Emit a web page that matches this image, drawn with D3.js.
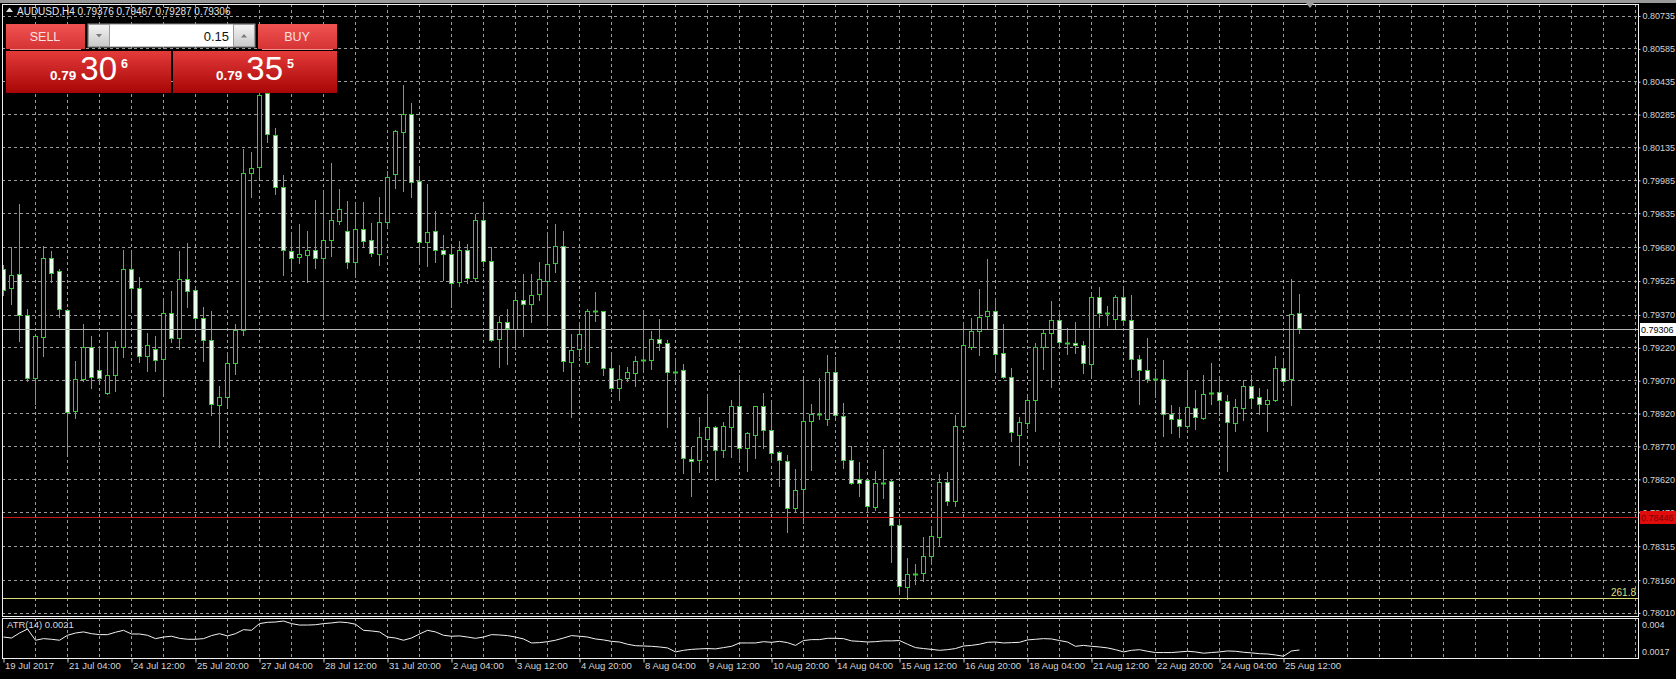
<!DOCTYPE html>
<html>
<head>
<meta charset="utf-8">
<script src="https://d3js.org/d3.v7.min.js"></script>
<style>
  body { margin: 0; background: #000; overflow: hidden; }
  svg { display: block; }
  text { font-family: "Liberation Sans", Arial, sans-serif; }
  .axis text { fill: #d4d4d4; font-size: 9.5px; }
  .yaxis text { font-size: 9px; }
  .axis line { stroke: #d4d4d4; }
  .grid line { stroke: #9c9c9c; stroke-dasharray: 3,3; shape-rendering: crispEdges; }
</style>
</head>
<body>
<svg id="chart" width="1676" height="679"></svg>
<script>
// AUDUSD H4 candles (bar 0 = left edge)
const barOpen = [
  0.79580,0.79492,0.79557,0.79370,0.79081,0.79271,0.79630,0.79568,0.79393,0.78929,
  0.79074,0.79220,0.79119,0.79010,0.79092,0.79223,0.79580,0.79492,0.79180,0.79215,
  0.79165,0.79375,0.79261,0.79530,0.79481,0.79352,0.79253,0.78960,0.78995,0.79150,
  0.79300,0.80018,0.80040,0.80380,0.80191,0.79952,0.79662,0.79630,0.79644,0.79666,
  0.79630,0.79712,0.79797,0.79751,0.79610,0.79762,0.79712,0.79648,0.79793,0.80008,
  0.80206,0.80287,0.79978,0.79701,0.79750,0.79666,0.79648,0.79522,0.79666,0.79537,
  0.79800,0.79615,0.79256,0.79334,0.79306,0.79438,0.79420,0.79461,0.79527,0.79603,
  0.79682,0.79157,0.79210,0.79151,0.79385,0.79385,0.79124,0.79033,0.79078,0.79106,
  0.79162,0.79163,0.79258,0.79239,0.79107,0.79115,0.78712,0.78707,0.78803,0.78856,
  0.78750,0.78859,0.78953,0.78760,0.78821,0.78953,0.78844,0.78741,0.78703,0.78487,
  0.78571,0.78882,0.78916,0.78894,0.79107,0.78909,0.78707,0.78618,0.78616,0.78491,
  0.78602,0.78610,0.78408,0.78127,0.78187,0.78192,0.78268,0.78355,0.78605,0.78517,
  0.78861,0.79221,0.79292,0.79361,0.79388,0.79194,0.79087,0.78818,0.78876,0.78978,
  0.79221,0.79285,0.79343,0.79239,0.79239,0.79229,0.79145,0.79452,0.79379,0.79353,
  0.79452,0.79346,0.79168,0.79118,0.79075,0.79077,0.78916,0.78894,0.78864,0.78943,
  0.78900,0.79014,0.79016,0.78976,0.78878,0.78946,0.79046,0.78993,0.78963,0.78981,
  0.79128,0.79075,0.79376
];
const barHigh = [
  0.79600,0.79679,0.79876,0.79397,0.79276,0.79686,0.79663,0.79580,0.79397,0.79162,
  0.79329,0.79276,0.79223,0.79294,0.79253,0.79666,0.79663,0.79542,0.79288,0.79276,
  0.79448,0.79481,0.79663,0.79697,0.79496,0.79408,0.79390,0.79048,0.79200,0.79329,
  0.80130,0.80112,0.80450,0.80480,0.80223,0.80008,0.79744,0.79785,0.79755,0.79896,
  0.79934,0.80063,0.79945,0.79891,0.79881,0.79887,0.79788,0.79910,0.80028,0.80214,
  0.80420,0.80337,0.80046,0.79967,0.79846,0.79735,0.79679,0.79709,0.79694,0.79831,
  0.79880,0.79679,0.79364,0.79397,0.79473,0.79557,0.79557,0.79610,0.79747,0.79785,
  0.79755,0.79283,0.79337,0.79397,0.79473,0.79390,0.79197,0.79142,0.79131,0.79185,
  0.79382,0.79297,0.79353,0.79254,0.79168,0.79148,0.78768,0.78905,0.79004,0.78864,
  0.78882,0.78984,0.79098,0.78837,0.78955,0.79016,0.78978,0.78750,0.78733,0.78669,
  0.79080,0.78966,0.79083,0.79186,0.79178,0.78969,0.78773,0.78697,0.78621,0.78659,
  0.78760,0.78621,0.78438,0.78259,0.78233,0.78355,0.78408,0.78643,0.78654,0.78912,
  0.79335,0.79358,0.79487,0.79624,0.79441,0.79327,0.79130,0.78906,0.79001,0.79244,
  0.79305,0.79434,0.79388,0.79312,0.79338,0.79251,0.79475,0.79498,0.79411,0.79463,
  0.79498,0.79460,0.79186,0.79265,0.79125,0.79163,0.78958,0.78950,0.79118,0.79026,
  0.79095,0.79151,0.79087,0.79004,0.78988,0.79075,0.79095,0.79037,0.79031,0.79183,
  0.79171,0.79533,0.79467
];
const barLow = [
  0.79460,0.79420,0.79253,0.79071,0.78964,0.79185,0.79519,0.79362,0.78736,0.78899,
  0.79068,0.79037,0.79071,0.79010,0.79025,0.79177,0.79382,0.79154,0.79116,0.79116,
  0.79013,0.79245,0.79215,0.79405,0.79314,0.79159,0.78916,0.78767,0.78960,0.79100,
  0.79280,0.79911,0.79998,0.80162,0.79922,0.79552,0.79572,0.79606,0.79519,0.79587,
  0.79352,0.79641,0.79785,0.79587,0.79542,0.79686,0.79641,0.79598,0.79770,0.79952,
  0.79937,0.79907,0.79603,0.79595,0.79610,0.79530,0.79405,0.79501,0.79516,0.79527,
  0.79595,0.79253,0.79131,0.79147,0.79215,0.79276,0.79340,0.79440,0.79324,0.79565,
  0.79113,0.78903,0.79185,0.79147,0.79344,0.79096,0.79025,0.78984,0.79071,0.79045,
  0.79109,0.79122,0.79209,0.78859,0.79068,0.78647,0.78545,0.78654,0.78768,0.78618,
  0.78723,0.78723,0.78697,0.78659,0.78718,0.78764,0.78700,0.78589,0.78381,0.78469,
  0.78423,0.78662,0.78897,0.78867,0.78905,0.78672,0.78598,0.78545,0.78470,0.78480,
  0.78537,0.78244,0.78096,0.78073,0.78142,0.78157,0.78233,0.78317,0.78502,0.78499,
  0.78861,0.79217,0.79186,0.79308,0.79122,0.79084,0.78795,0.78686,0.78856,0.78841,
  0.79122,0.79043,0.79229,0.79191,0.79195,0.79104,0.79095,0.79315,0.79323,0.79308,
  0.79326,0.79087,0.78966,0.79064,0.78996,0.78818,0.78833,0.78814,0.78855,0.78852,
  0.78897,0.78966,0.78912,0.78659,0.78840,0.78890,0.78955,0.78917,0.78840,0.78976,
  0.79049,0.78958,0.79287
];
const barClose = [
  0.79486,0.79552,0.79370,0.79081,0.79271,0.79630,0.79562,0.79393,0.78929,0.79077,
  0.79220,0.79083,0.79083,0.79092,0.79220,0.79580,0.79492,0.79180,0.79229,0.79165,
  0.79375,0.79261,0.79530,0.79476,0.79352,0.79253,0.78960,0.78995,0.79150,0.79300,
  0.80018,0.80040,0.80370,0.80192,0.79952,0.79663,0.79630,0.79645,0.79666,0.79630,
  0.79712,0.79803,0.79853,0.79610,0.79762,0.79709,0.79651,0.79793,0.79998,0.80206,
  0.80287,0.79978,0.79701,0.79747,0.79663,0.79648,0.79516,0.79666,0.79537,0.79800,
  0.79615,0.79256,0.79334,0.79306,0.79438,0.79420,0.79461,0.79530,0.79603,0.79682,
  0.79157,0.79210,0.79279,0.79385,0.79385,0.79124,0.79033,0.79074,0.79106,0.79160,
  0.79163,0.79258,0.79239,0.79105,0.79107,0.78712,0.78703,0.78811,0.78856,0.78750,
  0.78859,0.78953,0.78760,0.78829,0.78953,0.78844,0.78738,0.78703,0.78487,0.78571,
  0.78882,0.78916,0.78916,0.79107,0.78909,0.78707,0.78601,0.78598,0.78496,0.78601,
  0.78602,0.78408,0.78130,0.78187,0.78187,0.78268,0.78359,0.78605,0.78517,0.78861,
  0.79229,0.79294,0.79358,0.79384,0.79194,0.79084,0.78836,0.78879,0.78981,0.79221,
  0.79285,0.79343,0.79241,0.79239,0.79229,0.79145,0.79452,0.79379,0.79379,0.79452,
  0.79346,0.79168,0.79118,0.79077,0.79075,0.78916,0.78894,0.78864,0.78950,0.78900,
  0.79008,0.79014,0.78978,0.78878,0.78950,0.79046,0.78992,0.78963,0.78981,0.79128,
  0.79069,0.79373,0.79306
];
// ATR(14) per bar
const atrValues = [
  0.00291,0.00285,0.00316,0.00341,0.00271,0.00281,0.00277,0.00271,0.00302,0.00316,
  0.00323,0.00312,0.00306,0.00306,0.00321,0.00333,0.00310,0.00310,0.00302,0.00281,
  0.00291,0.00296,0.00283,0.00277,0.00277,0.00281,0.00300,0.00312,0.00298,0.00312,
  0.00337,0.00333,0.00375,0.00383,0.00385,0.00391,0.00375,0.00366,0.00366,0.00368,
  0.00375,0.00379,0.00385,0.00381,0.00371,0.00333,0.00329,0.00323,0.00291,0.00285,
  0.00271,0.00285,0.00310,0.00333,0.00323,0.00302,0.00296,0.00298,0.00291,0.00283,
  0.00291,0.00306,0.00304,0.00300,0.00291,0.00279,0.00254,0.00256,0.00262,0.00271,
  0.00285,0.00300,0.00296,0.00291,0.00279,0.00273,0.00264,0.00260,0.00246,0.00237,
  0.00235,0.00233,0.00229,0.00223,0.00198,0.00208,0.00214,0.00217,0.00219,0.00217,
  0.00225,0.00233,0.00254,0.00254,0.00254,0.00262,0.00258,0.00264,0.00256,0.00239,
  0.00269,0.00275,0.00275,0.00283,0.00283,0.00281,0.00267,0.00264,0.00260,0.00262,
  0.00267,0.00267,0.00269,0.00246,0.00225,0.00219,0.00214,0.00208,0.00212,0.00219,
  0.00235,0.00239,0.00246,0.00258,0.00260,0.00254,0.00256,0.00258,0.00273,0.00277,
  0.00281,0.00279,0.00269,0.00260,0.00233,0.00239,0.00233,0.00229,0.00223,0.00212,
  0.00198,0.00208,0.00212,0.00202,0.00194,0.00194,0.00194,0.00198,0.00202,0.00198,
  0.00190,0.00194,0.00198,0.00204,0.00202,0.00196,0.00192,0.00187,0.00185,0.00179,
  0.00171,0.00204,0.00210
];

const priceTicks = [0.80735,0.80585,0.80435,0.80285,0.80135,0.79985,0.79835,0.79680,0.79525,
  0.79370,0.79220,0.79070,0.78920,0.78770,0.78620,0.78470,0.78315,0.78160,0.78010];
const dateLabels = ["19 Jul 2017","21 Jul 04:00","24 Jul 12:00","25 Jul 20:00","27 Jul 04:00",
  "28 Jul 12:00","31 Jul 20:00","2 Aug 04:00","3 Aug 12:00","4 Aug 20:00","8 Aug 04:00",
  "9 Aug 12:00","10 Aug 20:00","14 Aug 04:00","15 Aug 12:00","16 Aug 20:00","18 Aug 04:00",
  "21 Aug 12:00","22 Aug 20:00","24 Aug 04:00","25 Aug 12:00"];
const atrTicks = [0.004, 0.0017];

const symbol = "AUDUSD,H4";
const bidPrice = 0.79306;
const alertLevel = 0.78446;
const fiboLevel = 0.78074;
const fiboLabel = "261.8";
const lotSize = "0.15";
const sellQuote = ["0.79", "30", "6"];
const buyQuote = ["0.79", "35", "5"];

const W = 1676, H = 679;
const plotLeft = 2, plotRight = 1638, plotTop = 4, plotBottom = 616;
const atrTop = 618, atrBottom = 658;
const green = "#38c838";
const snap = v => Math.round(v - 0.5) + 0.5;

// one bar every 8px, grid every 4 bars
const x = d3.scaleLinear().domain([0, 1]).range([3.5, 11.5]);
const y = d3.scaleLinear().domain([0.78010, 0.80735]).range([613, 16]);
const yAtr = d3.scaleLinear().domain([0.0016, 0.0041]).range([atrBottom, atrTop]);

const svg = d3.select("#chart");
svg.append("rect").attr("width", W).attr("height", H).attr("fill", "#000");
svg.append("rect").attr("width", W).attr("height", 3).attr("fill", "#9a9a9a");

const defs = svg.append("defs");
defs.append("clipPath").attr("id", "plotClip")
  .append("rect").attr("x", plotLeft + 1).attr("y", plotTop + 1)
  .attr("width", plotRight - plotLeft - 1).attr("height", plotBottom - plotTop - 1);
defs.append("clipPath").attr("id", "atrClip")
  .append("rect").attr("x", plotLeft + 1).attr("y", atrTop + 1)
  .attr("width", plotRight - plotLeft - 1).attr("height", atrBottom - atrTop - 1);

// grid
const gridBars = d3.range(4, 205, 4);
const grid = svg.append("g").attr("class", "grid");
grid.selectAll(".gv").data(gridBars).join("line")
  .attr("x1", d => snap(x(d))).attr("x2", d => snap(x(d)))
  .attr("y1", plotTop).attr("y2", plotBottom);
grid.selectAll(".ga").data(gridBars).join("line").attr("class", "ga")
  .attr("x1", d => snap(x(d))).attr("x2", d => snap(x(d)))
  .attr("y1", atrTop).attr("y2", atrBottom);
grid.selectAll(".gh").data(priceTicks).join("line").attr("class", "gh")
  .attr("x1", plotLeft).attr("x2", plotRight)
  .attr("y1", d => snap(y(d))).attr("y2", d => snap(y(d)));

// candles
const bars = d3.range(barOpen.length).map(i => ({
  i: i, o: barOpen[i], h: barHigh[i], l: barLow[i], c: barClose[i]
}));
const candles = svg.append("g").attr("clip-path", "url(#plotClip)")
  .selectAll("g").data(bars).join("g");

candles.append("line")
  .attr("x1", d => snap(x(d.i))).attr("x2", d => snap(x(d.i)))
  .attr("y1", d => Math.round(y(d.h))).attr("y2", d => Math.round(y(d.l)) + 1)
  .attr("stroke", green);

candles.filter(d => Math.abs(y(d.o) - y(d.c)) >= 1).append("rect")
  .attr("x", d => snap(x(d.i)) - 2)
  .attr("y", d => snap(y(Math.max(d.o, d.c))))
  .attr("width", 4)
  .attr("height", d => Math.max(1, Math.round(Math.abs(y(d.o) - y(d.c)))))
  .attr("fill", d => d.c > d.o ? "#000" : "#eaffea")
  .attr("stroke", green);

candles.filter(d => Math.abs(y(d.o) - y(d.c)) < 1).append("line")
  .attr("x1", d => snap(x(d.i)) - 2.5).attr("x2", d => snap(x(d.i)) + 2.5)
  .attr("y1", d => snap(y(d.o))).attr("y2", d => snap(y(d.o)))
  .attr("stroke", green).attr("stroke-width", 2);

// horizontal levels
svg.append("line").attr("x1", plotLeft).attr("x2", plotRight)
  .attr("y1", snap(y(fiboLevel))).attr("y2", snap(y(fiboLevel)))
  .attr("stroke", "#dcdc78");
svg.append("text").attr("x", plotRight - 2).attr("y", snap(y(fiboLevel)) - 3)
  .attr("text-anchor", "end").attr("fill", "#dede78").attr("font-size", "10px").text(fiboLabel);

svg.append("line").attr("x1", plotLeft).attr("x2", plotRight)
  .attr("y1", snap(y(alertLevel))).attr("y2", snap(y(alertLevel)))
  .attr("stroke", "#c81818");
svg.append("line").attr("x1", plotLeft).attr("x2", plotRight)
  .attr("y1", snap(y(bidPrice))).attr("y2", snap(y(bidPrice)))
  .attr("stroke", "#b4b4b4");

// frames
svg.append("rect").attr("x", plotLeft + 0.5).attr("y", plotTop + 0.5)
  .attr("width", plotRight - plotLeft).attr("height", plotBottom - plotTop)
  .attr("fill", "none").attr("stroke", "#f0f0f0");
svg.append("rect").attr("x", plotLeft + 0.5).attr("y", atrTop + 0.5)
  .attr("width", plotRight - plotLeft).attr("height", atrBottom - atrTop)
  .attr("fill", "none").attr("stroke", "#f0f0f0");

// ATR line
const atrLine = d3.line().x((d, i) => x(i)).y(d => yAtr(d));
svg.append("path").datum(atrValues).attr("clip-path", "url(#atrClip)")
  .attr("d", atrLine).attr("fill", "none").attr("stroke", "#f2f2f2").attr("stroke-width", 1);
svg.append("text").attr("x", 7).attr("y", atrTop + 10)
  .attr("fill", "#d8d8d8").attr("font-size", "9.5px")
  .text("ATR(14) " + atrValues[atrValues.length - 1].toFixed(4));

// price axis (the 0.78470 label sits under the alert tag, as on the terminal)
const yAxis = d3.axisRight(y).tickValues(priceTicks)
  .tickFormat(d3.format(".5f")).tickSize(2).tickPadding(2);
svg.append("g").attr("class", "axis yaxis").attr("transform", `translate(${plotRight + 0.5},0)`)
  .call(yAxis).call(g => g.select(".domain").remove());

svg.append("g").attr("class", "axis yaxis").selectAll("text").data(atrTicks).join("text")
  .attr("x", plotRight + 4)
  .attr("y", (d, i) => i === 0 ? atrTop + 10 : atrBottom - 3)
  .text(d => String(d));

// time axis
const dateBars = dateLabels.map((d, i) => i * 8);
const xAxis = d3.axisBottom(x).tickValues(dateBars)
  .tickFormat((d, i) => dateLabels[i]).tickSize(4);
svg.append("g").attr("class", "axis").attr("transform", `translate(0,${atrBottom + 0.5})`)
  .call(xAxis)
  .call(g => g.select(".domain").remove())
  .call(g => g.selectAll("text").attr("text-anchor", "start").attr("x", 1).attr("y", 4));

// price tags on the axis
function priceTag(price, bg, fg) {
  const yy = snap(y(price));
  svg.append("rect").attr("x", plotRight + 2).attr("y", yy - 6.5)
    .attr("width", W - plotRight - 2).attr("height", 13).attr("fill", bg);
  svg.append("text").attr("x", plotRight + 3).attr("y", yy + 3.5)
    .attr("fill", fg).attr("font-size", "9px").text(d3.format(".5f")(price));
}
priceTag(alertLevel, "#e00c0c", "#7a0000");
priceTag(bidPrice, "#ffffff", "#000000");

// header
svg.append("path").attr("d", "M6,12 L9.5,7.5 L13,12 Z").attr("fill", "#e0e0e0");
svg.append("text").attr("x", 17).attr("y", 15).attr("fill", "#e4e4e4").attr("font-size", "10px")
  .text(symbol + "  " + [barOpen, barHigh, barLow, barClose]
    .map(a => a[a.length - 1].toFixed(5)).join(" "));

// chart shift marker
svg.append("path").attr("d", "M1306,3 L1314,3 L1310,8 Z").attr("fill", "#9a9a9a");

// one-click trading panel
const topGrad = defs.append("linearGradient").attr("id", "btnTop").attr("x1", 0).attr("x2", 0).attr("y1", 0).attr("y2", 1);
topGrad.append("stop").attr("offset", "0%").attr("stop-color", "#f05252");
topGrad.append("stop").attr("offset", "100%").attr("stop-color", "#d63434");
const lowGrad = defs.append("linearGradient").attr("id", "btnLow").attr("x1", 0).attr("x2", 0).attr("y1", 0).attr("y2", 1);
lowGrad.append("stop").attr("offset", "0%").attr("stop-color", "#e43a3a");
lowGrad.append("stop").attr("offset", "100%").attr("stop-color", "#a80606");
const spinGrad = defs.append("linearGradient").attr("id", "spin").attr("x1", 0).attr("x2", 0).attr("y1", 0).attr("y2", 1);
spinGrad.append("stop").attr("offset", "0%").attr("stop-color", "#f4f4f4");
spinGrad.append("stop").attr("offset", "100%").attr("stop-color", "#c8c8c8");

const panel = svg.append("g");
[[6, "SELL", 45], [258, "BUY", 297]].forEach(b => {
  panel.append("rect").attr("x", b[0]).attr("y", 24).attr("width", 79).attr("height", 25)
    .attr("fill", "url(#btnTop)");
  panel.append("line").attr("x1", b[0] + 4).attr("x2", b[0] + 75).attr("y1", 49.5).attr("y2", 49.5)
    .attr("stroke", "#f59090");
  panel.append("text").attr("x", b[2]).attr("y", 41).attr("text-anchor", "middle")
    .attr("fill", "#f8e2e2").attr("font-size", "12.5px").text(b[1]);
});

panel.append("rect").attr("x", 88).attr("y", 24).attr("width", 167).attr("height", 23)
  .attr("fill", "#fff").attr("stroke", "#8a8a8a");
[[88, "M96,34 L102,34 L99,37.5 Z"], [233, "M241,37.5 L247,37.5 L244,34 Z"]].forEach(s => {
  panel.append("rect").attr("x", s[0] + 0.5).attr("y", 24.5).attr("width", 21).attr("height", 22)
    .attr("fill", "url(#spin)").attr("stroke", "#9a9a9a");
  panel.append("path").attr("d", s[1]).attr("fill", "#7a7a7a");
});
panel.append("text").attr("x", 229).attr("y", 40.5).attr("text-anchor", "end")
  .attr("fill", "#111").attr("font-size", "13px").text(lotSize);

[[6, 165, sellQuote, 50], [173, 164, buyQuote, 216]].forEach(b => {
  panel.append("rect").attr("x", b[0]).attr("y", 51).attr("width", b[1]).attr("height", 42)
    .attr("fill", "url(#btnLow)");
  const t = panel.append("text").attr("x", b[3]).attr("y", 80).attr("fill", "#fff");
  t.append("tspan").attr("font-size", "13.5px").attr("font-weight", "bold").text(b[2][0]);
  t.append("tspan").attr("dx", 4).attr("font-size", "33px").text(b[2][1]);
  t.append("tspan").attr("dx", 4).attr("dy", -12).attr("font-size", "12.5px")
    .attr("font-weight", "bold").text(b[2][2]);
});
</script>
</body>
</html>
